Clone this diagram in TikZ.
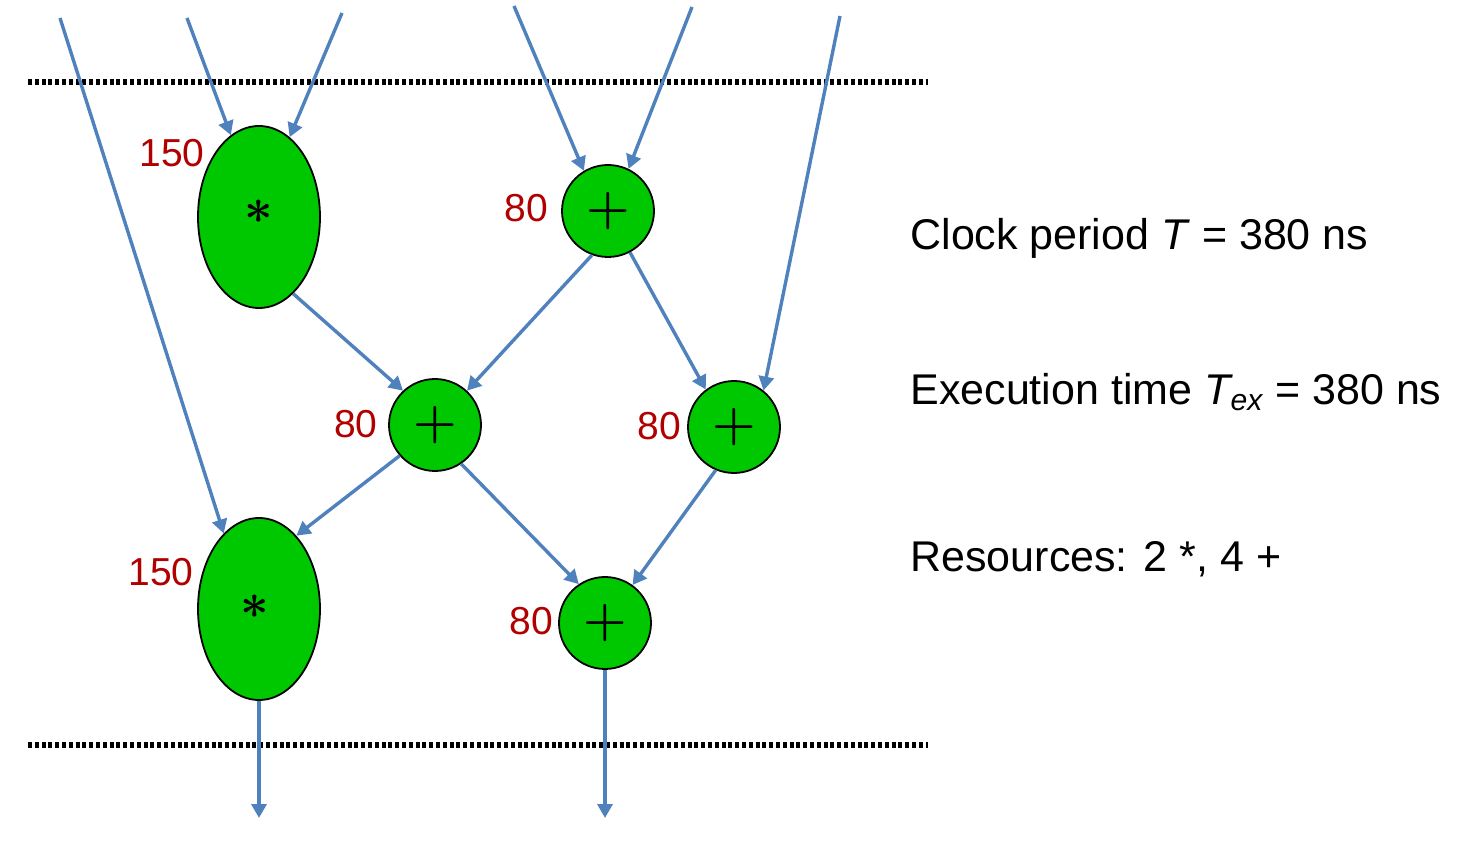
\documentclass[tikz,border=0pt]{standalone}
\usepackage{fontspec}
\setmainfont{Liberation Sans}
\usetikzlibrary{arrows.meta,shapes.geometric}
\definecolor{opgreen}{RGB}{0,200,0}
\definecolor{edgeblue}{RGB}{79,129,189}
\definecolor{lblred}{RGB}{176,0,0}
\begin{document}
\begin{tikzpicture}[x=0.5pt,y=-0.5pt,
  mulnode/.style={ellipse,draw=black,line width=0.9pt,fill=opgreen,minimum width=61pt,minimum height=91pt,inner sep=0pt},
  addnode/.style={circle,draw=black,line width=0.9pt,fill=opgreen,minimum size=46pt,inner sep=0pt,font=\fontsize{23}{26}\selectfont\boldmath},
  opsym/.style={font=\fontsize{30}{34}\selectfont\boldmath,inner sep=0pt},
  delay/.style={text=lblred,font=\fontsize{19.5}{23}\selectfont,inner sep=0pt},
  info/.style={anchor=west,font=\fontsize{21.5}{26}\selectfont,inner sep=0pt},
  flow/.style={draw=edgeblue,line width=1.7pt,-{Triangle[length=7pt,width=7.5pt]}},
  boundary/.style={line width=2.8pt,dash pattern=on 2pt off 1.4pt}]
\useasboundingbox (0,0) rectangle (1472,854);
% boundaries
\coordinate (t1) at (28,82);
\coordinate (t2) at (928,82);
\coordinate (b1) at (28,745);
\coordinate (b2) at (928,745);
\draw[boundary] (t1) -- (t2);
\draw[boundary] (b1) -- (b2);
% operation nodes
\node[mulnode] (M1) at (259,217) {};
\node[addnode] (A1) at (608,211) {$+$};
\node[addnode] (A2) at (435,425) {$+$};
\node[addnode] (A3) at (734,427) {$+$};
\node[mulnode] (M2) at (259,609) {};
\node[addnode] (A4) at (605,623) {$+$};
\node[opsym] (S1) at (259,212) {$\ast$};
\node[opsym] (S2) at (255,607) {$\ast$};
% delay labels
\node[delay] (L1) at (172,153) {150};
\node[delay] (L2) at (526,208) {80};
\node[delay] (L3) at (356,424) {80};
\node[delay] (L4) at (659,426) {80};
\node[delay] (L5) at (161,572) {150};
\node[delay] (L6) at (531,621) {80};
% free ends
\coordinate (i1) at (60,18);
\coordinate (i2) at (187,18);
\coordinate (i3) at (342,13);
\coordinate (i4) at (514,6);
\coordinate (i5) at (692,7);
\coordinate (i6) at (840,16);
\coordinate (o1) at (259,818);
\coordinate (o2) at (605,818);
% connectors
\draw[flow] (i1) -- (M2.115);
\draw[flow] (i2) -- (M1.109);
\draw[flow] (i3) -- (M1.69);
\draw[flow] (i4) -- (A1.121);
\draw[flow] (i5) -- (A1.64);
\draw[flow] (i6) -- (A3.51);
\draw[flow] (M1.-66) -- (A2.133);
\draw[flow] (A1.250) -- (A2.47);
\draw[flow] (A1.-62) -- (A3.127);
\draw[flow] (A2.221) -- (M2.63);
\draw[flow] (A2.-56) -- (A4.124);
\draw[flow] (A3.247) -- (A4.54);
\draw[flow] (M2.south) -- (o1);
\draw[flow] (A4.south) -- (o2);
% info text
\node[info] (c1) at (910,238) {Clock period \textit{T} = 380 ns};
\node[info] (c2) at (910,392) {Execution time \textit{T\textsubscript{ex}} = 380 ns};
\node[info] (c3) at (910,559) {Resources: 2 *, 4 +};
\end{tikzpicture}
\end{document}
